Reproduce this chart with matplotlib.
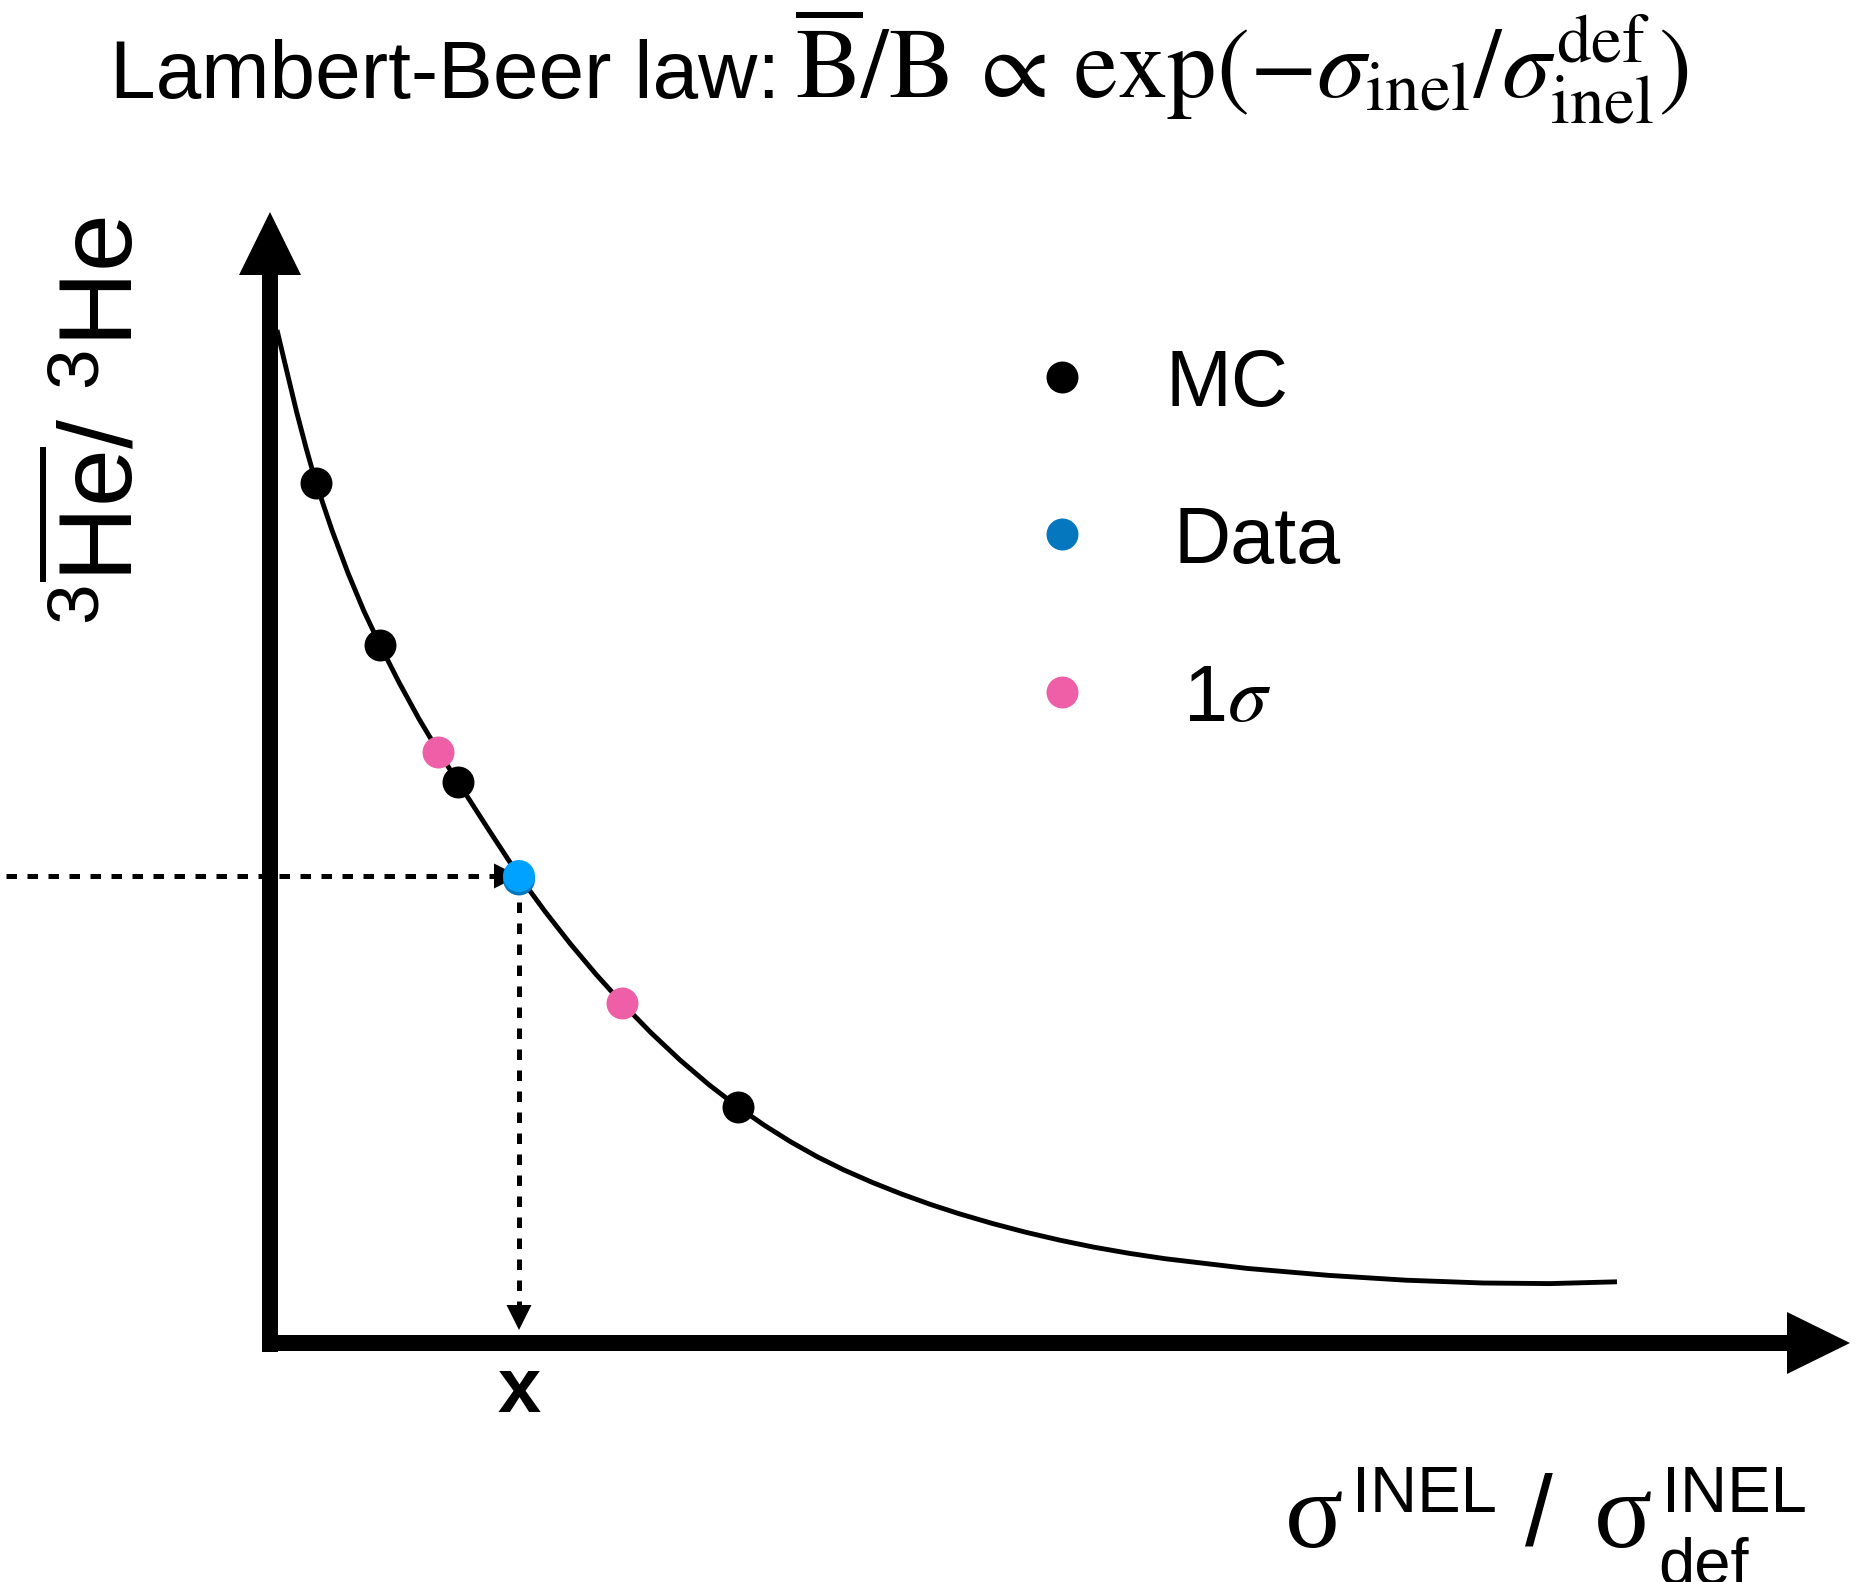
import numpy as np
import matplotlib.pyplot as plt
import matplotlib.patheffects as pe

# Survival curve (illustrative), in plot units
curve_x = [0.07, 0.17, 0.265, 0.3625, 0.46, 0.62, 0.78, 0.94, 1.10, 1.295, 1.49,
           1.685, 1.88, 2.185, 2.49, 2.7475, 3.005, 3.2625, 3.52, 3.81, 4.10, 4.39,
           4.68, 4.945, 5.21, 5.475, 5.74, 6.0275, 6.315, 6.6025, 6.89, 7.225,
           7.56, 7.895, 8.23, 8.59, 8.95, 9.77, 10.59, 11.36, 12.13, 12.80, 13.47]
curve_y = [10.13, 9.71, 9.315, 8.945, 8.60, 8.127, 7.70, 7.317, 6.98, 6.597, 6.241,
           5.915, 5.61, 5.135, 4.67, 4.319, 3.99, 3.684, 3.40, 3.1025, 2.83, 2.5825,
           2.36, 2.176, 2.01, 1.861, 1.73, 1.604, 1.49, 1.3865, 1.293, 1.195,
           1.107, 1.029, 0.960, 0.897, 0.843, 0.746, 0.676, 0.628, 0.600, 0.594, 0.612]

# MC points, measured ratio and its 1 sigma band
mc_x = [0.46, 1.10, 1.88, 4.68]
mc_y = [8.60, 6.98, 5.61, 2.36]
sig_x = [1.68, 3.52]
sig_y = [5.91, 3.40]
data_x = [2.49]
data_y = [4.67]

legend_labels = ["MC", "Data", r"1$\sigma$"]

black = "#000000"
blue = "#00a2ff"
blue_dark = "#0477bf"
pink = "#ee5fa7"

plt.rcParams['font.family'] = ['Liberation Sans', 'DejaVu Sans']
plt.rcParams['mathtext.fontset'] = 'custom'
plt.rcParams['mathtext.rm'] = 'Liberation Sans'
plt.rcParams['mathtext.it'] = 'Liberation Serif:italic'

fig = plt.figure(figsize=(18.6, 15.82), dpi=100)
ax = fig.add_axes([0, 0, 1, 1])
ax.set_xlim(-2.70, 15.90)
ax.set_ylim(-2.39, 13.43)
ax.axis('off')

# Axes drawn as thick arrows
ax.arrow(-0.07, 0, 15.87, 0, width=0.16, head_width=0.62, head_length=0.63,
         length_includes_head=True, color=black, lw=0, zorder=3)
ax.arrow(0, -0.09, 0, 11.40, width=0.16, head_width=0.62, head_length=0.63,
         length_includes_head=True, color=black, lw=0, zorder=3)

# Dashed guides from the measured point
xd, yd = data_x[0], data_y[0]
ax.plot([-2.64, xd - 0.25], [yd, yd], color=black, lw=3.6, dashes=(2.1, 2.1), zorder=2)
ax.arrow(xd - 0.25, yd, 0.25, 0, width=0, head_width=0.25, head_length=0.25,
         length_includes_head=True, color=black, lw=0, zorder=2)
ax.plot([xd, xd], [yd - 0.26, 0.13 + 0.25], color=black, lw=3.6, dashes=(2.1, 2.1), zorder=2)
ax.arrow(xd, 0.38, 0, -0.25, width=0, head_width=0.25, head_length=0.25,
         length_includes_head=True, color=black, lw=0, zorder=2)

# Curve and points
ax.plot(curve_x, curve_y, color=black, lw=3.5, solid_joinstyle='round',
        solid_capstyle='butt', zorder=4)
ax.plot(mc_x, mc_y, 'o', ms=23, color=black, mew=0, zorder=5)
ax.plot(sig_x, sig_y, 'o', ms=23, color=pink, mew=0, zorder=5)
ax.plot(data_x, data_y, 'o', ms=23, color=blue, mew=0, zorder=6,
        path_effects=[pe.SimplePatchShadow(offset=(0, -2.5), shadow_rgbFace=blue_dark, alpha=1),
                      pe.Normal()])

# Legend
leg_colors = [black, blue_dark, pink]
leg_y = [9.66, 8.09, 6.51]
leg_tx = [8.95, 9.03, 9.13]
for lab, c, ly, tx in zip(legend_labels, leg_colors, leg_y, leg_tx):
    ax.plot([7.92], [ly], 'o', ms=23, color=c, mew=0)
    ax.text(tx, ly - 0.29, lab, fontsize=57, ha='left', va='baseline', math_fontfamily='stix')

# Title: plain text part and the formula
ax.text(-1.60, 12.45, "Lambert-Beer law:", fontsize=59, ha='left', va='baseline')
ax.text(5.25, 12.45,
        r"$\overline{\mathrm{B}}/\mathrm{B}\,\propto\,\exp(-\sigma_{\mathrm{inel}}/\sigma_{\mathrm{inel}}^{\mathrm{def}})$",
        fontsize=71, ha='left', va='baseline', math_fontfamily='stix')

# y label
ax.text(-1.67, 9.22, r"$^{3}\overline{\mathrm{He}}$/ $^{3}$He", fontsize=75,
        rotation=90, ha='center', va='center')

# x label
ax.text(10.15, -2.04, "σ", fontsize=78, family='Liberation Serif', ha='left', va='baseline')
ax.text(10.82, -1.69, "INEL", fontsize=47, ha='left', va='baseline')
ax.text(12.55, -2.02, "/", fontsize=72, ha='left', va='baseline')
ax.text(13.24, -2.04, "σ", fontsize=78, family='Liberation Serif', ha='left', va='baseline')
ax.text(13.92, -1.69, "INEL", fontsize=47, ha='left', va='baseline')
ax.text(13.88, -2.40, "def", fontsize=47, ha='left', va='baseline')

# marker of the extracted value
ax.text(xd, -0.69, "x", fontsize=56, fontweight='bold', ha='center', va='baseline')

fig.savefig("out.png", dpi=100)
